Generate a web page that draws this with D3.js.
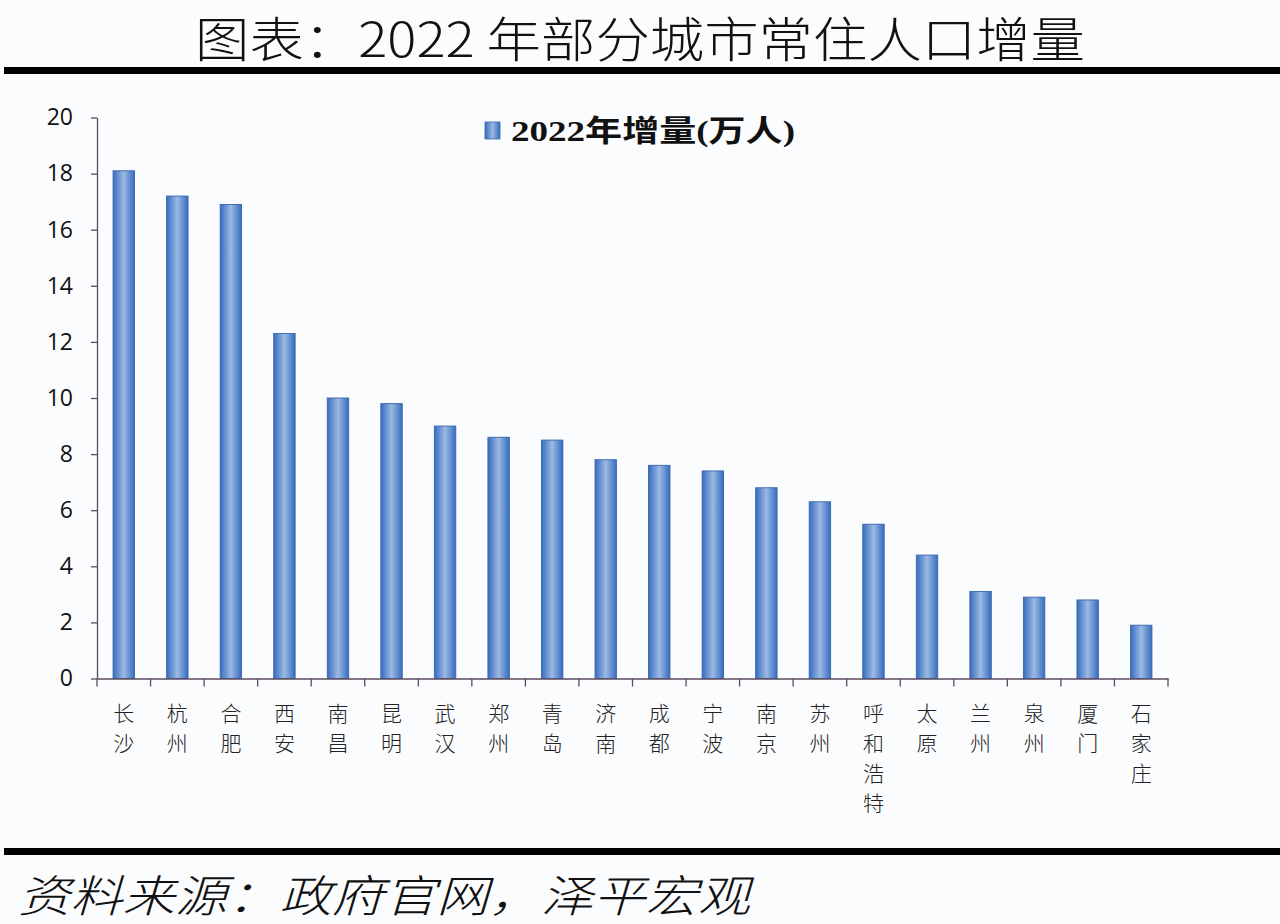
<!DOCTYPE html>
<html>
<head>
<meta charset="utf-8">
<script src="https://cdn.jsdelivr.net/npm/d3@7"></script>
<style>
    body { margin: 0; background: #fbfcfe; }
    svg { display: block; }
</style>
</head>
<body>
<svg id="chart" width="1280" height="924"></svg>
<script>
// data
const cities = ["长沙", "杭州", "合肥", "西安", "南昌", "昆明", "武汉", "郑州", "青岛", "济南",
    "成都", "宁波", "南京", "苏州", "呼和浩特", "太原", "兰州", "泉州", "厦门", "石家庄"];
const increase = [18.1, 17.2, 16.9, 12.3, 10.0, 9.8, 9.0, 8.6, 8.5, 7.8,
    7.6, 7.4, 6.8, 6.3, 5.5, 4.4, 3.1, 2.9, 2.8, 1.9];
const yTicks = [0, 2, 4, 6, 8, 10, 12, 14, 16, 18, 20];
const seriesName = "2022年增量(万人)";
const titleText = "图表：2022 年部分城市常住人口增量";
const sourceText = "资料来源：政府官网，泽平宏观";

const svg = d3.select("#chart");
const cjk = "'Noto Sans CJK SC', 'Noto Sans', sans-serif";
const axisColor = "#5b4b5e";

// background
svg.append("rect").attr("width", 1280).attr("height", 924).attr("fill", "#fbfcfe");

// title + rules
svg.append("text")
    .attr("x", 640)
    .attr("y", 57)
    .attr("text-anchor", "middle")
    .attr("textLength", 890)
    .attr("lengthAdjust", "spacingAndGlyphs")
    .style("font-family", cjk)
    .style("font-weight", 300)
    .style("font-size", "48px")
    .attr("fill", "#111")
    .text(titleText);

svg.append("rect").attr("x", 4).attr("y", 67).attr("width", 1276).attr("height", 7).attr("fill", "#000");
svg.append("rect").attr("x", 4).attr("y", 848).attr("width", 1276).attr("height", 7).attr("fill", "#000");

svg.append("text")
    .attr("x", 18)
    .attr("y", 912)
    .attr("textLength", 732)
    .attr("lengthAdjust", "spacingAndGlyphs")
    .style("font-family", cjk)
    .style("font-weight", 300)
    .style("font-style", "italic")
    .style("font-size", "44px")
    .attr("fill", "#111")
    .text(sourceText);

// scales
const x = d3.scaleBand()
    .domain(cities)
    .range([97, 1168])
    .padding(0);

const y = d3.scaleLinear()
    .domain([0, 20])
    .range([678.5, 117.5]);

// gradient for the bars
const defs = svg.append("defs");
const grad = defs.append("linearGradient")
    .attr("id", "barGrad")
    .attr("x1", "0%").attr("x2", "100%")
    .attr("y1", "0%").attr("y2", "0%");
grad.append("stop").attr("offset", "0%").attr("stop-color", "#3a6cbc");
grad.append("stop").attr("offset", "20%").attr("stop-color", "#5e8bcf");
grad.append("stop").attr("offset", "50%").attr("stop-color", "#9cb9e2");
grad.append("stop").attr("offset", "80%").attr("stop-color", "#5e8bcf");
grad.append("stop").attr("offset", "100%").attr("stop-color", "#3a6cbc");

// bars
const barW = x.bandwidth() * 0.4;
svg.selectAll("rect.bar")
    .data(cities)
    .enter()
    .append("rect")
    .attr("class", "bar")
    .attr("x", (d) => x(d) + (x.bandwidth() - barW) / 2)
    .attr("y", (d, i) => y(increase[i]))
    .attr("width", barW)
    .attr("height", (d, i) => y(0) - y(increase[i]))
    .attr("fill", "url(#barGrad)")
    .attr("stroke", "#3766ae")
    .attr("stroke-width", 0.9);

// y axis
const yAxis = svg.append("g")
    .attr("transform", "translate(97,0)")
    .call(d3.axisLeft(y).tickValues(yTicks).tickSize(6).tickSizeOuter(0).tickPadding(18));
yAxis.select(".domain").attr("stroke", axisColor).attr("stroke-width", 1.3);
yAxis.selectAll(".tick line").attr("stroke", axisColor).attr("stroke-width", 1.3);
yAxis.selectAll(".tick text")
    .style("font-family", "'Open Sans', 'Noto Sans', sans-serif")
    .style("font-size", "23px")
    .attr("fill", "#111");

// x axis: line plus ticks on the category boundaries
const xAxis = svg.append("g")
    .attr("transform", `translate(0,${y(0)})`)
    .call(d3.axisBottom(x).tickSize(0).tickFormat(""));
xAxis.select(".domain").attr("stroke", axisColor).attr("stroke-width", 1.5);

const bounds = cities.map((d) => x(d)).concat([x.range()[1]]);
xAxis.selectAll("line.bound")
    .data(bounds)
    .enter()
    .append("line")
    .attr("class", "bound")
    .attr("x1", (d) => d).attr("x2", (d) => d)
    .attr("y1", 0).attr("y2", 8)
    .attr("stroke", axisColor)
    .attr("stroke-width", 1.3);

// vertical city labels, one character per line
const labels = svg.selectAll("text.city")
    .data(cities)
    .enter()
    .append("text")
    .attr("class", "city")
    .attr("text-anchor", "middle")
    .style("font-family", cjk)
    .style("font-weight", 300)
    .style("font-size", "21px")
    .attr("fill", "#222");

labels.selectAll("tspan")
    .data((d) => d.split("").map((c) => ({c: c, city: d})))
    .enter()
    .append("tspan")
    .attr("x", (d) => x(d.city) + x.bandwidth() / 2)
    .attr("y", (d, i) => y(0) + 42 + i * 30)
    .text((d) => d.c);

// legend
const legend = svg.append("g").attr("transform", "translate(485,122)");
legend.append("rect")
    .attr("x", 0).attr("y", 0)
    .attr("width", 15).attr("height", 17)
    .attr("fill", "url(#barGrad)")
    .attr("stroke", "#3766ae")
    .attr("stroke-width", 0.8);
legend.append("text")
    .attr("x", 26)
    .attr("y", 19)
    .attr("textLength", 284)
    .attr("lengthAdjust", "spacingAndGlyphs")
    .attr("font-family", "Liberation Serif, DejaVu Serif, Noto Sans CJK SC, serif")
    .attr("font-weight", "bold")
    .attr("font-size", "30px")
    .attr("fill", "#111")
    .text(seriesName);
</script>
</body>
</html>
